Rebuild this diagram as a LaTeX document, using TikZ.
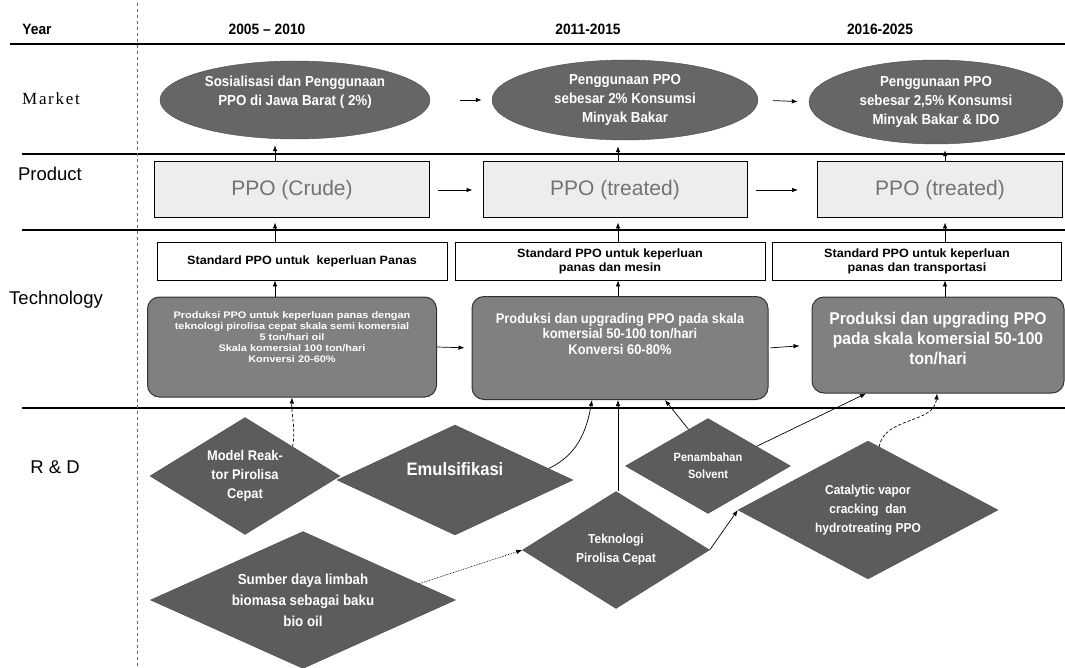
\documentclass[tikz,border=0pt]{standalone}
\usepackage{fontspec}
\setmainfont{Liberation Sans}
\newfontfamily\nar[FakeStretch=0.92]{Liberation Sans}
\newfontfamily\wid[FakeStretch=1.05]{Liberation Sans}
\newfontfamily\wider[FakeStretch=1.15]{Liberation Sans}
\newfontfamily\serls[LetterSpace=10]{Liberation Serif}
\usetikzlibrary{shapes.geometric,arrows.meta,calc}
\begin{document}
\begin{tikzpicture}[x=1pt,y=-1pt,
  arr/.style={-{Latex[length=6pt,width=4.5pt]},line width=0.7pt},
  sepline/.style={line width=1.3pt},
  mkt/.style={ellipse,draw=black!70,fill=black!60,text=white,font=\nar\bfseries\fontsize{14.5}{19}\selectfont,align=center,inner sep=0pt},
  prod/.style={rectangle,draw=black,line width=1pt,fill=black!7,text=black!55,font=\fontsize{21}{24}\selectfont,inner sep=0pt},
  std/.style={rectangle,draw=black,line width=0.8pt,fill=white,font=\wid\bfseries\fontsize{12}{14}\selectfont,align=center,inner sep=0pt},
  tech/.style={rectangle,rounded corners=12pt,draw=black!80,line width=1pt,fill=black!50,text=white,align=center,inner sep=0pt},
  rnd/.style={diamond,draw=black!70,fill=black!64,text=white,align=center,inner sep=0pt},
  lbl/.style={font=\fontsize{18.5}{20}\selectfont},
  hdr/.style={font=\nar\bfseries\fontsize{15}{17}\selectfont}
]
\useasboundingbox (0,0) rectangle (1065,668);

% grid lines
\draw[sepline] (10,44) -- (1065,44);
\draw[sepline] (22,154) -- (1065,154);
\draw[sepline] (22,230) -- (1065,230);
\draw[sepline] (22,408) -- (1065,408);
\draw[black!60,dashed,line width=0.6pt] (137,3) -- (137,668);

% header
\node[hdr] (year) at (37,29) {Year};
\node[hdr] (per1) at (267,29) {2005 – 2010};
\node[hdr] (per2) at (588,29) {2011-2015};
\node[hdr] (per3) at (880,29) {2016-2025};

% row labels
\node[font=\serls\fontsize{17}{19}\selectfont] (lmarket) at (51,99) {Market};
\node[lbl] (lproduct) at (50,174) {Product};
\node[lbl] (ltech) at (56,300) {Technology};
\node[lbl] (lrd) at (55,467) {R \& D};

\coordinate (c1) at (275,0);
\coordinate (c2) at (618,0);
\coordinate (c3) at (945,0);

% market
\node[mkt,minimum width=270pt,minimum height=78pt] (E1) at (295,100) {Sosialisasi dan Penggunaan\\PPO di Jawa Barat ( 2\%)\\~};
\node[mkt,minimum width=266pt,minimum height=80pt] (E2) at (625,100) {Penggunaan PPO\\sebesar 2\% Konsumsi\\Minyak Bakar};
\node[mkt,minimum width=254pt,minimum height=84pt] (E3) at (936,102) {Penggunaan PPO\\sebesar 2,5\% Konsumsi\\Minyak Bakar \& IDO};

% product
\node[prod,minimum width=275pt,minimum height=56pt] (P1) at (292,190) {PPO (Crude)};
\node[prod,minimum width=264pt,minimum height=56pt] (P2) at (615,190) {PPO (treated)};
\node[prod,minimum width=245pt,minimum height=56pt] (P3) at (940,190) {PPO (treated)};

% technology standards
\node[std,minimum width=290pt,minimum height=38pt] (W1) at (302,261) {Standard PPO untuk\ \ keperluan Panas};
\node[std,minimum width=310pt,minimum height=38pt] (W2) at (610,261) {Standard PPO untuk keperluan\\panas dan mesin};
\node[std,minimum width=289pt,minimum height=38pt] (W3) at (917,261) {Standard PPO untuk keperluan\\panas dan transportasi};

% technology production
\node[tech,minimum width=289pt,minimum height=100pt,font=\wider\bfseries\fontsize{9.5}{11}\selectfont] (R1) at (292,347)
 {Produksi PPO untuk keperluan panas dengan\\teknologi pirolisa cepat skala semi komersial\\5 ton/hari oil\\Skala komersial 100 ton/hari\\Konversi 20-60\%\\[9pt]~};
\node[tech,minimum width=296pt,minimum height=103pt,font=\nar\bfseries\fontsize{14}{15.5}\selectfont] (R2) at (620,348)
 {Produksi dan upgrading PPO pada skala\\komersial 50-100 ton/hari\\Konversi 60-80\%\\[13pt]~};
\node[tech,minimum width=252pt,minimum height=96pt,font=\nar\bfseries\fontsize{17}{20}\selectfont] (R3) at (938,345)
 {Produksi dan upgrading PPO\\pada skala komersial 50-100\\ton/hari\\[-6pt]~};

% R&D
\node[rnd,aspect=1.62,minimum width=190pt,minimum height=117pt,font=\nar\bfseries\fontsize{14}{19}\selectfont] (D1) at (245,476) {Model Reak-\\tor Pirolisa\\Cepat};
\node[rnd,aspect=2.15,minimum width=236pt,minimum height=110pt,font=\nar\bfseries\fontsize{18}{22}\selectfont] (D2) at (455,480) {Emulsifikasi\\~};
\node[rnd,aspect=2.23,minimum width=305pt,minimum height=137pt,font=\nar\bfseries\fontsize{14.5}{21}\selectfont] (D3) at (303,600) {Sumber daya limbah\\biomasa sebagai baku\\bio oil};
\node[rnd,aspect=1.6,minimum width=187pt,minimum height=117pt,font=\nar\bfseries\fontsize{13}{19}\selectfont] (D4) at (616,550) {Teknologi\\Pirolisa Cepat};
\node[rnd,aspect=1.74,minimum width=165pt,minimum height=95pt,font=\nar\bfseries\fontsize{12}{17}\selectfont] (D5) at (708,466) {Penambahan\\Solvent};
\node[rnd,aspect=1.88,minimum width=260pt,minimum height=138pt,font=\nar\bfseries\fontsize{13}{19}\selectfont] (D6) at (868,510) {Catalytic vapor\\cracking\ \ dan\\hydrotreating PPO};

% horizontal arrows
\draw[arr,shorten <=30pt,shorten >=10pt] (E1.east) -- (E2.west);
\draw[arr,shorten <=15pt,shorten >=11pt] (E2.east) -- (E3.west);
\draw[arr,shorten <=8pt,shorten >=10pt] (P1.east) -- (P2.west);
\draw[arr,shorten <=8pt,shorten >=19pt] (P2.east) -- (P3.west);
\draw[arr,shorten >=7pt] (R1.east) -- (R2.west);
\draw[arr,shorten <=2pt,shorten >=12pt] (R2.east) -- (R3.west);

% vertical arrows
\foreach \i/\c in {1/c1,2/c2,3/c3}{
  \draw[arr] (R\i.north -| \c) -- (W\i.south -| \c);
  \draw[arr,shorten >=4pt] (W\i.north -| \c) -- (P\i.south -| \c);
  \draw[arr,shorten >=6pt] (P\i.north -| \c) -- (E\i.south -| \c);
}

% R&D connectors
\draw[arr,densely dashed] (D1.north east) to[out=80,in=-92] (R1.south);
\draw[arr] (D2.7) to[out=25,in=-100] ($(R2.south)+(-28,0)$);
\draw[arr] (D4.north -| c2) -- (R2.south -| c2);
\draw[arr] (D5.118) -- ($(R2.south)+(45,0)$);
\draw[arr] (D5.22) -- ($(R3.south)+(-72,0)$);
\draw[arr,densely dashed] (D6.80) to[out=80,in=-95] ($(R3.south)+(-1,0)$);
\draw[arr,densely dotted] (D3.8) -- (D4.west);
\draw[arr] (D4.east) -- (D6.west);
\end{tikzpicture}
\end{document}
